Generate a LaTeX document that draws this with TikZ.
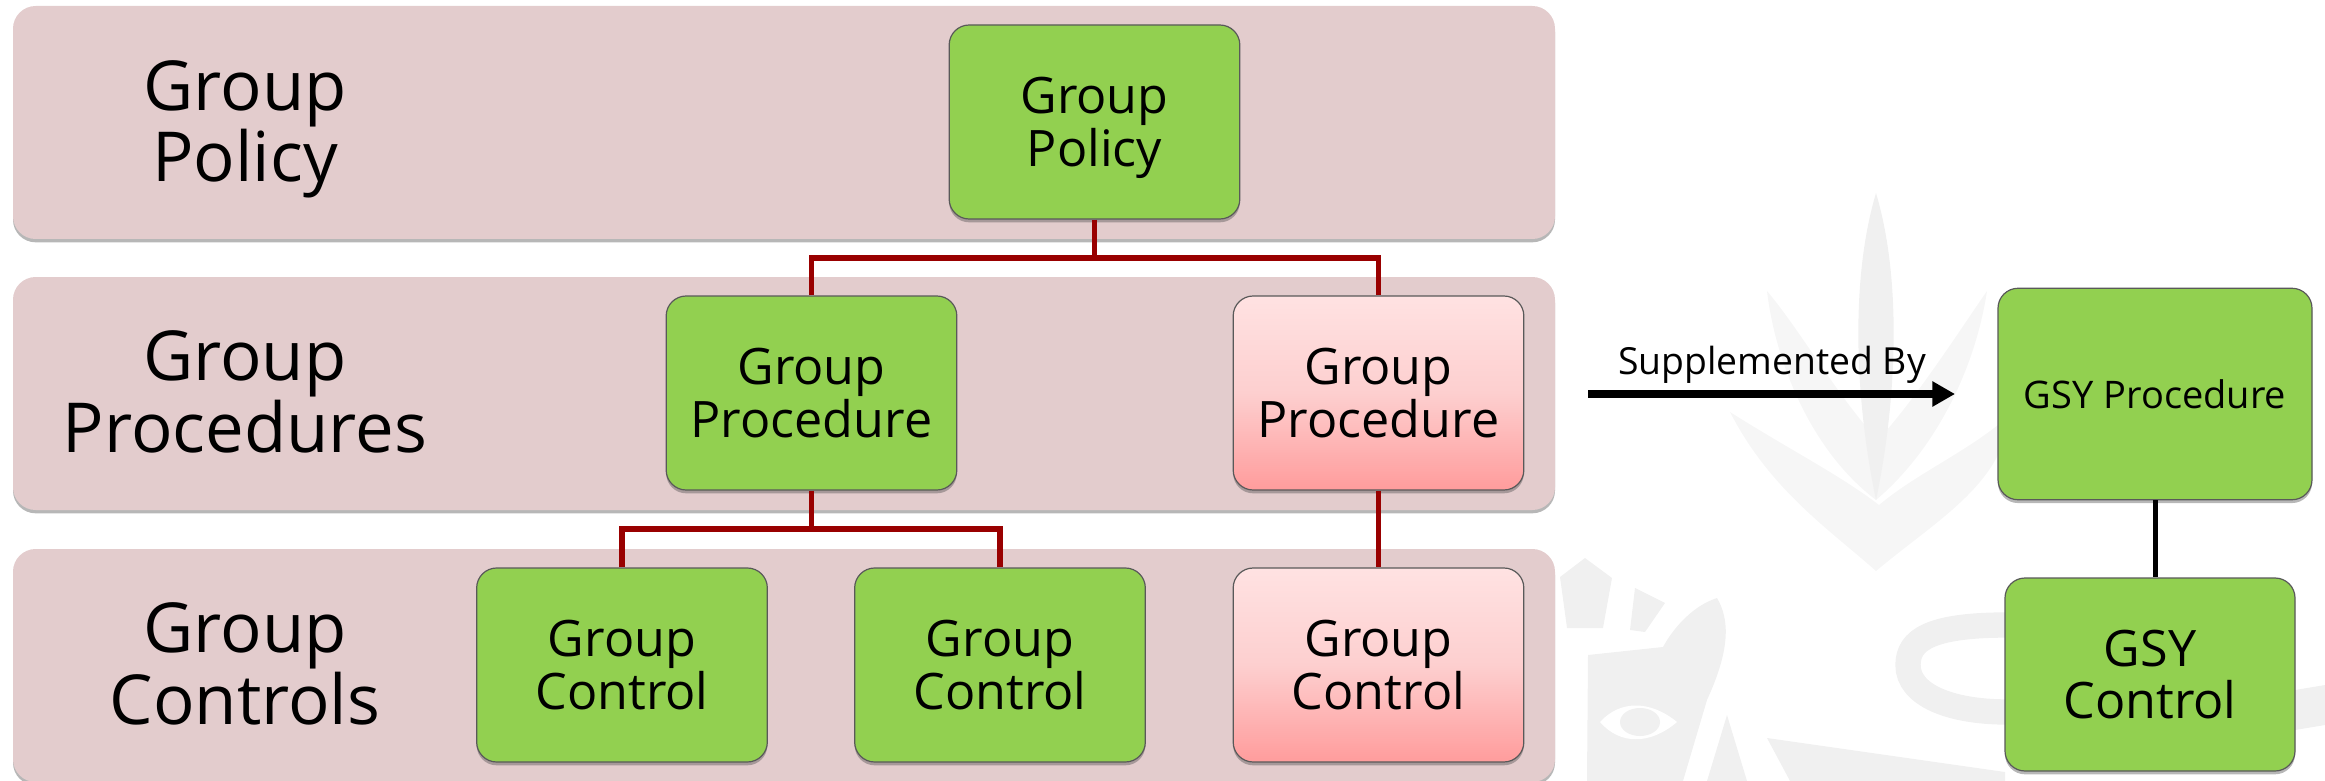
\documentclass[tikz,border=0pt]{standalone}
\usepackage{fontspec}
\setmainfont{Open Sans}
\usetikzlibrary{shadows,arrows.meta}

\definecolor{bandPink}{HTML}{E3CCCD}
\definecolor{boxGreen}{HTML}{92D050}
\definecolor{boxTop}{HTML}{FFE2E2}
\definecolor{boxMid}{HTML}{FDCFCF}
\definecolor{boxBot}{HTML}{FF9C9C}
\definecolor{linkRed}{HTML}{990000}
\definecolor{markA}{HTML}{F0F0F0}
\definecolor{markB}{HTML}{F6F6F6}

\tikzset{
  softShadow/.style={drop shadow={shadow xshift=0pt,shadow yshift=-2.5pt,opacity=.4,fill=black!70}},
  band/.style={fill=bandPink,rounded corners=17pt,minimum width=1156.5pt,minimum height=174.75pt,inner sep=0pt,softShadow},
  rowLabel/.style={align=center,font=\fontsize{51.7}{53.5}\selectfont},
  box/.style={draw=black!65,line width=.9pt,rounded corners=15pt,minimum width=218pt,minimum height=145.5pt,inner sep=0pt,align=center,font=\fontsize{37.7}{39.5}\selectfont,softShadow},
  greenBox/.style={box,fill=boxGreen},
  pinkBox/.style={box,top color=boxTop,bottom color=boxBot,middle color=boxMid},
  redLink/.style={draw=linkRed,line width=4pt},
  blackLink/.style={draw=black,line width=3.75pt}
}

\begin{document}
\begin{tikzpicture}[x=0.75pt,y=0.75pt,yscale=-1,xscale=1]
\useasboundingbox (0,0) rectangle (2325,781);

%Watermark: leaves
\fill[markB] (1730,412) .. controls (1770,490) and (1830,530) .. (1876,571) .. controls (1925,530) and (1975,500) .. (1998,455) -- (1998,425) .. controls (1960,455) and (1915,475) .. (1879,505) .. controls (1840,475) and (1790,450) .. (1730,412) -- cycle;
\fill[markB] (1767,291) .. controls (1775,360) and (1810,450) .. (1876,500) .. controls (1935,450) and (1975,370) .. (1987,291) .. controls (1960,330) and (1915,400) .. (1878,440) .. controls (1840,400) and (1800,330) .. (1767,291) -- cycle;
\fill[markA] (1876,193) .. controls (1850,280) and (1855,400) .. (1876,500) .. controls (1897,400) and (1902,280) .. (1876,193) -- cycle;
%Watermark: head
\fill[markA] (1560,577) -- (1585,558) -- (1612,578) -- (1603,628) -- (1567,628) -- cycle;
\fill[markA] (1635,588) -- (1665,603) -- (1645,632) -- (1630,630) -- cycle;
\fill[markA] (1588,655) -- (1663,647) .. controls (1675,625) and (1695,605) .. (1717,598) .. controls (1730,620) and (1730,650) .. (1707,700) -- (1683,781) -- (1587,781) -- cycle;
\fill[white] (1600,722) .. controls (1620,700) and (1650,700) .. (1677,722) .. controls (1650,745) and (1620,745) .. (1600,722) -- cycle;
\fill[markA] (1640,722) ellipse (20 and 14);
\fill[markA] (1727,715) -- (1747,781) -- (1707,781) -- cycle;
\fill[markA] (1767,738) -- (2005,772) -- (2005,781) -- (1790,781) -- cycle;
%Watermark: ring
\draw[markA,line width=19pt] (2007,625) .. controls (1930,625) and (1908,640) .. (1908,665) .. controls (1908,695) and (1950,712) .. (2007,712);
\fill[markA] (2295,690) -- (2325,685) -- (2325,725) -- (2295,730) -- cycle;

%Shape: Bands
\node[band] (bandPolicy) at (784,122.5) {};
\node[band] (bandProc) at (784,393.5) {};
\node[band] (bandCtrl) at (784,665.5) {};

% Text Node
\node[rowLabel] (labelPolicy) at (245,121) {Group\\\smash{Policy}};
\node[rowLabel] (labelProc) at (245,392) {Group\\Procedures};
\node[rowLabel] (labelCtrl) at (245,664) {Group\\Controls};

%Shape: Boxes
\node[greenBox] (policy) at (1094.5,122) {Group\\\smash{Policy}};
\node[greenBox] (procA) at (811.5,393) {Group\\Procedure};
\node[pinkBox] (procB) at (1378.5,393) {Group\\Procedure};
\node[greenBox] (ctrlA) at (622,665) {Group\\Control};
\node[greenBox] (ctrlB) at (1000,665) {Group\\Control};
\node[pinkBox] (ctrlC) at (1378.5,665) {Group\\Control};
\node[greenBox,minimum width=235.5pt,minimum height=158.6pt,font=\fontsize{28.5}{30}\selectfont] (gsyProc) at (2155,394) {GSY Procedure};
\node[greenBox,minimum width=217.5pt,minimum height=144.75pt] (gsyCtrl) at (2150,674.5) {GSY\\Control};

%Connectors
\coordinate (busTop) at (1094.5,258);
\coordinate (busLow) at (811.5,529);
\draw[redLink] (policy.south) -- (busTop);
\draw[redLink] (procA.north) |- (busTop) -| (procB.north);
\draw[redLink] (procA.south) -- (busLow);
\draw[redLink] (ctrlA.north) |- (busLow) -| (ctrlB.north);
\draw[redLink] (procB.south) -- (ctrlC.north);
\draw[blackLink] (gsyProc.south) -- (gsyProc.south |- gsyCtrl.north);

%Arrow
\coordinate (arrowStart) at (1588,394);
\coordinate (arrowEnd) at (1955,394);
\draw[draw=black,line width=6pt,-{Triangle[length=17pt,width=18pt]}] (arrowStart) -- (arrowEnd);
\node[font=\fontsize{28}{30}\selectfont] (arrowLabel) at (1772,365) {Supplemented By};
\end{tikzpicture}
\end{document}
